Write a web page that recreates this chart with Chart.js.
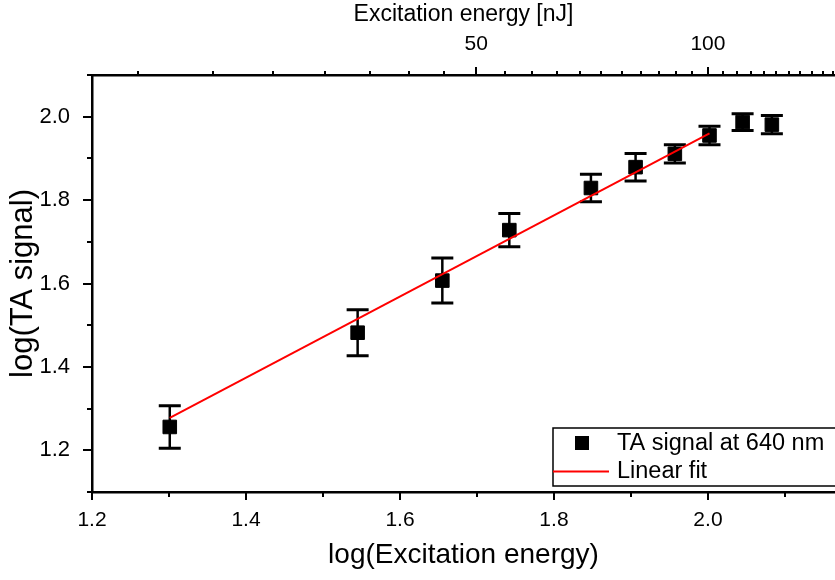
<!DOCTYPE html>
<html><head><meta charset="utf-8">
<script src="https://cdn.jsdelivr.net/npm/chart.js@4/dist/chart.umd.min.js"></script>
<style>html,body{margin:0;padding:0;background:#fff;overflow:hidden}</style>
</head><body>
<canvas id="c" width="835" height="580"></canvas>
<script>
// ---- data ----
const logEnergy   = [1.301, 1.545, 1.655, 1.742, 1.848, 1.906, 1.957, 2.002, 2.045, 2.083];
const logSignal   = [1.256, 1.482, 1.607, 1.728, 1.829, 1.879, 1.911, 1.955, 1.987, 1.981];
const signalError = [0.051, 0.055, 0.054, 0.040, 0.033, 0.033, 0.022, 0.022, 0.020, 0.022];
const fitX = [1.301, 2.002];
const fitY = [1.278, 1.960];
const bottomTickValues = [1.2, 1.3, 1.4, 1.5, 1.6, 1.7, 1.8, 1.9, 2.0, 2.1];
const bottomTickLabels = ['1.2', '', '1.4', '', '1.6', '', '1.8', '', '2.0', ''];
const leftTickValues = [1.1, 1.2, 1.3, 1.4, 1.5, 1.6, 1.7, 1.8, 1.9, 2.0, 2.1];
const leftTickLabels = ['', '1.2', '', '1.4', '', '1.6', '', '1.8', '', '2.0', ''];
const topTickEnergies = [];           // nJ, minor step 50/11 as in the reference
for (let k = 4; k <= 32; k++) topTickEnergies.push(k * 50 / 11);
const topTickLabelled = {50: '50', 100: '100'};
const seriesLabels = ['TA signal at 640 nm', 'Linear fit'];

const FONT = "'Liberation Sans', Arial, sans-serif";
Chart.defaults.font.family = FONT;
Chart.defaults.color = '#000';

function labelFor(values, labels, v) {
  const i = values.findIndex(t => Math.abs(t - v) < 1e-9);
  return i >= 0 ? labels[i] : '';
}
function topLabel(v) {
  const e = Math.pow(10, v);
  for (const k in topTickLabelled) if (Math.abs(e - k) < 1e-6) return topTickLabelled[k];
  return '';
}

const errorBars = {
  id: 'errorBars',
  beforeDatasetsDraw(chart) {
    const ctx = chart.ctx, xs = chart.scales.x, ys = chart.scales.y;
    ctx.save();
    ctx.strokeStyle = '#000';
    logEnergy.forEach((xv, i) => {
      const px = xs.getPixelForValue(xv);
      const top = ys.getPixelForValue(logSignal[i] + signalError[i]);
      const bot = ys.getPixelForValue(logSignal[i] - signalError[i]);
      ctx.lineWidth = 2.5;
      ctx.beginPath(); ctx.moveTo(px, top); ctx.lineTo(px, bot); ctx.stroke();
      ctx.lineWidth = 3;
      ctx.beginPath();
      ctx.moveTo(px - 11, top); ctx.lineTo(px + 11, top);
      ctx.moveTo(px - 11, bot); ctx.lineTo(px + 11, bot);
      ctx.stroke();
    });
    ctx.restore();
  }
};

const tickMarks = {
  id: 'tickMarks',
  afterDraw(chart) {
    const ctx = chart.ctx, a = chart.chartArea;
    const {x, y, x2} = chart.scales;
    ctx.save();
    ctx.strokeStyle = '#000';
    ctx.lineWidth = 2;
    ctx.beginPath();
    x.ticks.forEach(t => {
      const px = Math.round(x.getPixelForValue(t.value));
      const len = labelFor(bottomTickValues, bottomTickLabels, t.value) ? 8 : 5;
      ctx.moveTo(px, a.bottom); ctx.lineTo(px, a.bottom + len);
    });
    y.ticks.forEach(t => {
      const py = Math.round(y.getPixelForValue(t.value));
      const len = labelFor(leftTickValues, leftTickLabels, t.value) ? 9 : 5;
      ctx.moveTo(a.left, py); ctx.lineTo(a.left - len, py);
    });
    x2.ticks.forEach(t => {
      const px = Math.round(x2.getPixelForValue(t.value));
      const len = topLabel(t.value) ? 8 : 4;
      ctx.moveTo(px, a.top); ctx.lineTo(px, a.top - len);
    });
    ctx.stroke();
    ctx.restore();
  }
};

const boxLegend = {
  id: 'boxLegend',
  afterDraw(chart) {
    const ctx = chart.ctx;
    const L = 553, T = 428, B = 486, R = 845;
    ctx.save();
    ctx.fillStyle = '#fff';
    ctx.fillRect(L, T, R - L, B - T);
    ctx.strokeStyle = '#000'; ctx.lineWidth = 1.5;
    ctx.strokeRect(L, T, R - L, B - T);
    ctx.fillStyle = '#000';
    ctx.fillRect(575, 436, 14, 14);
    ctx.strokeStyle = '#ff0000'; ctx.lineWidth = 2;
    ctx.beginPath(); ctx.moveTo(L, 471.5); ctx.lineTo(609, 471.5); ctx.stroke();
    ctx.fillStyle = '#000';
    ctx.font = '23.5px ' + FONT;
    ctx.textBaseline = 'middle';
    ctx.fillText(seriesLabels[0], 617, 444);
    ctx.fillText(seriesLabels[1], 617, 472);
    ctx.restore();
  }
};

new Chart(document.getElementById('c'), {
  data: {
    datasets: [
      {
        type: 'line', label: seriesLabels[1], order: 0,
        data: fitX.map((v, i) => ({x: v, y: fitY[i]})),
        borderColor: '#ff0000', borderWidth: 2, pointRadius: 0, fill: false
      },
      {
        type: 'scatter', label: seriesLabels[0], order: 1,
        data: logEnergy.map((v, i) => ({x: v, y: logSignal[i]})),
        pointStyle: 'rect', pointRadius: 9.6, backgroundColor: '#000',
        borderColor: '#000', borderWidth: 1
      }
    ]
  },
  options: {
    responsive: false, animation: false, devicePixelRatio: 1,
    layout: {padding: 0, autoPadding: false},
    plugins: {legend: {display: false}, tooltip: {enabled: false}},
    scales: {
      x: {
        type: 'linear', position: 'bottom', min: 1.2, max: 2.165,
        afterBuildTicks: s => { s.ticks = bottomTickValues.map(v => ({value: v})); },
        afterFit: s => { s.height = 88; },
        ticks: {
          callback: v => labelFor(bottomTickValues, bottomTickLabels, v),
          font: {size: 21}, padding: 0, maxRotation: 0, autoSkip: false
        },
        grid: {display: true, drawOnChartArea: false, drawTicks: true, tickLength: 16, tickColor: 'rgba(0,0,0,0)'},
        border: {display: true, color: '#000', width: 2.5},
        title: {display: true, text: 'log(Excitation energy)', font: {size: 28}, padding: {top: 0, bottom: 8}}
      },
      x2: {
        type: 'linear', position: 'top', min: 1.2, max: 2.165,
        afterBuildTicks: s => { s.ticks = topTickEnergies.map(e => ({value: Math.log10(e)})); },
        afterFit: s => { s.height = 75; },
        ticks: {callback: v => topLabel(v), font: {size: 21}, padding: 0, maxRotation: 0, autoSkip: false},
        grid: {display: true, drawOnChartArea: false, drawTicks: true, tickLength: 18, tickColor: 'rgba(0,0,0,0)'},
        border: {display: true, color: '#000', width: 2.5},
        title: {display: true, text: 'Excitation energy [nJ]', font: {size: 23}, padding: {top: 1, bottom: 0}}
      },
      y: {
        type: 'linear', position: 'left', min: 1.1, max: 2.1,
        afterBuildTicks: s => { s.ticks = leftTickValues.map(v => ({value: v})); },
        afterFit: s => { s.width = 92; },
        ticks: {callback: v => labelFor(leftTickValues, leftTickLabels, v), font: {size: 22}, padding: 13, autoSkip: false},
        grid: {display: true, drawOnChartArea: false, drawTicks: true, tickLength: 9, tickColor: 'rgba(0,0,0,0)'},
        border: {display: true, color: '#000', width: 2.5},
        title: {display: true, text: 'log(TA signal)', font: {size: 31}, padding: {top: 5, bottom: 0}}
      }
    }
  },
  plugins: [errorBars, tickMarks, boxLegend]
});
</script>
</body></html>
